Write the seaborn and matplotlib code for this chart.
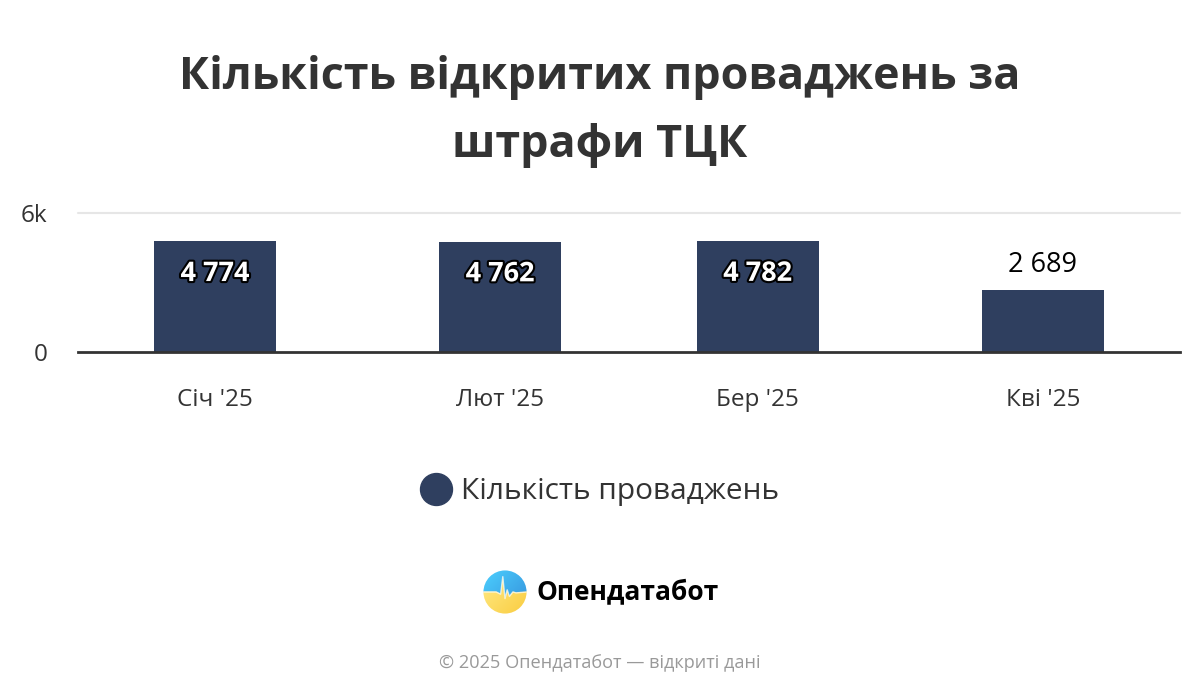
import numpy as np
import pandas as pd
import matplotlib
matplotlib.use("Agg")
import matplotlib.pyplot as plt
import matplotlib.patheffects as pe
from matplotlib.lines import Line2D
from matplotlib.patches import Circle
import seaborn as sns

# ---- data ----
months = ["Січ '25", "Лют '25", "Бер '25", "Кві '25"]
month_start = ["2025-01-01", "2025-02-01", "2025-03-01", "2025-04-01"]
values = [4774, 4762, 4782, 2689]
value_labels = ["4 774", "4 762", "4 782", "2 689"]
series_name = "Кількість проваджень"
title_lines = ["Кількість відкритих проваджень за", "штрафи ТЦК"]
footer = "© 2025 Опендатабот — відкриті дані"
brand = "Опендатабот"
y_ticks = [0, 6000]
y_tick_labels = ["0", "6k"]

sns.set_theme(style="white")
plt.rcParams["font.family"] = ["Open Sans", "DejaVu Sans"]

dates = pd.to_datetime(month_start)
days = (dates - dates[0]).days.to_numpy().astype(float)
df = pd.DataFrame({"day": days, "value": values})

bar_color = "#2f3f5f"
fig = plt.figure(figsize=(12, 7), dpi=100)
ax = fig.add_axes([78 / 1200, 1 - 352 / 700, (1180 - 78) / 1200, 139 / 700])

sns.barplot(data=df, x="day", y="value", native_scale=True, color=bar_color,
            width=13.3 / 28, ax=ax, saturation=1, edgecolor="none")

ax.set_xlim(days[0] - 14.9, days[-1] + 14.9)
ax.set_ylim(0, 6000)
ax.set_xticks(days)
ax.set_xticklabels(months, fontsize=17.5, color="#333333")
ax.set_yticks(y_ticks)
ax.set_yticklabels(y_tick_labels, fontsize=17.5, color="#333333")
ax.tick_params(axis="x", length=0, pad=26)
ax.tick_params(axis="y", length=0, pad=22)
ax.set_xlabel("")
ax.set_ylabel("")
for s in ["left", "right", "top"]:
    ax.spines[s].set_visible(False)
ax.spines["bottom"].set_color("#333333")
ax.spines["bottom"].set_linewidth(2)
ax.axhline(6000, color="#e6e6e6", lw=1.5, zorder=0, clip_on=False)

for d, v, lab in zip(days, values, value_labels):
    if v > 4000:
        t = ax.annotate(lab, (d, v), xytext=(0, -23.5), textcoords="offset points",
                        ha="center", va="center", fontsize=19.5, fontweight="bold",
                        color="white")
        t.set_path_effects([pe.withStroke(linewidth=3, foreground="black")])
    else:
        ax.annotate(lab, (d, v), xytext=(0, 18), textcoords="offset points",
                    ha="center", va="center", fontsize=19.5, color="black")

fig.text(0.5, 1 - 89 / 700, title_lines[0], ha="center", va="baseline", fontsize=32.3,
         fontweight="bold", color="#333333")
fig.text(0.5, 1 - 157 / 700, title_lines[1], ha="center", va="baseline", fontsize=32.3,
         fontweight="bold", color="#333333")

handle = Line2D([], [], marker="o", linestyle="none", markersize=23,
                markerfacecolor=bar_color, markeredgecolor=bar_color)
fig.legend([handle], [series_name], loc="center", bbox_to_anchor=(0.5, 1 - 492 / 700),
           frameon=False, fontsize=21.5, labelcolor="#333333", handletextpad=0.35,
           handlelength=1.0)

# logo
lax = fig.add_axes([483 / 1200, 1 - 614 / 700, 44 / 1200, 44 / 700])
lax.set_xlim(0, 1)
lax.set_ylim(0, 1)
lax.axis("off")
n = 200
yy, xx = np.mgrid[0:1:n * 1j, 0:1:n * 1j]
wave_x = np.array([0, 0.3, 0.4, 0.45, 0.5, 0.55, 0.6, 0.68, 0.75, 1.0])
wave_y = np.array([0.5, 0.5, 0.45, 0.85, 0.35, 0.55, 0.4, 0.5, 0.48, 0.5])
boundary = np.interp(xx, wave_x, wave_y)
blue_a = np.array([0.30, 0.82, 1.0])
blue_b = np.array([0.20, 0.55, 0.85])
yellow_a = np.array([1.0, 0.93, 0.55])
yellow_b = np.array([0.98, 0.80, 0.25])
img = np.zeros((n, n, 3))
up = yy >= boundary
g = ((xx + (1 - yy)) / 2)[..., None]
img[up] = (blue_a + (blue_b - blue_a) * g)[up]
img[~up] = (yellow_a + (yellow_b - yellow_a) * g)[~up]
im = lax.imshow(img, origin="lower", extent=(0, 1, 0, 1))
circ = Circle((0.5, 0.5), 0.49, transform=lax.transData)
im.set_clip_path(circ)
lax.plot(wave_x, wave_y, color="white", lw=1.0, alpha=0.7, clip_path=circ)
fig.text(537 / 1200, 1 - 592 / 700, brand, ha="left", va="center", fontsize=19,
         fontweight="bold", color="black")

fig.text(0.5, 1 - 663 / 700, footer, ha="center", va="center", fontsize=13.1,
         color="#999999")

fig.savefig("out.png", dpi=100, facecolor="white")
